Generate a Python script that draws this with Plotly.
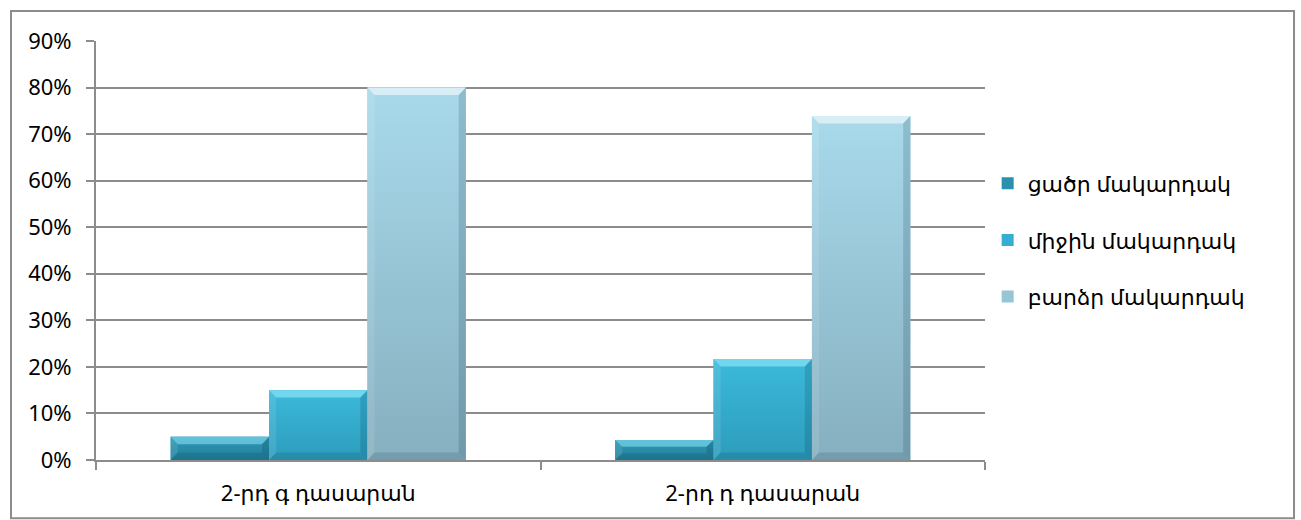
import plotly.graph_objects as go

# Data
categories = ["2-րդ գ դասարան", "2-րդ դ դասարան"]
series_names = ["ցածր մակարդակ", "միջին մակարդակ", "բարձր մակարդակ"]
low_level = [0.05, 0.043]
mid_level = [0.15, 0.217]
high_level = [0.80, 0.739]
y_ticks = [0, 0.1, 0.2, 0.3, 0.4, 0.5, 0.6, 0.7, 0.8, 0.9]

series_values = [low_level, mid_level, high_level]

# Styling: flat fill for the legend swatch, gradient (bottom -> top) for the bar body
bar_colors = ["#2a90ad", "#36aed0", "#96c5d6"]
grad_bottom = ["#23809a", "#2d9cbc", "#86afbf"]
grad_top = ["#2e98b5", "#3bb9da", "#a8daeb"]
bevel_top = ["rgba(140,230,250,0.55)", "rgba(160,240,255,0.55)", "rgba(255,255,255,0.55)"]

FONT = "Noto Sans, DejaVu Sans, sans-serif"
GRID = "#8c8c8c"
BARGAP = 0.336
Y_MAX = 0.9

fig = go.Figure()
for i, (name, vals) in enumerate(zip(series_names, series_values)):
    fig.add_trace(go.Bar(
        x=categories,
        y=vals,
        name=name,
        legendgroup=name,
        marker=dict(color=bar_colors[i], line=dict(width=0)),
    ))

# Bevel / gradient overlay, placed on a linear twin of the category axis
group_w = 1 - BARGAP
bar_w = group_w / len(series_values)
bx = 0.016            # bevel width in category units
by = 0.016            # bevel height in value units


def poly(xs, ys, **kw):
    fig.add_trace(go.Scatter(
        x=xs, y=ys, xaxis="x2", yaxis="y", mode="lines", fill="toself",
        line=dict(width=0), hoverinfo="skip", showlegend=False, **kw))


for j, vals in enumerate(series_values):
    for i, v in enumerate(vals):
        x0 = i - group_w / 2 + j * bar_w
        x1 = x0 + bar_w
        b = min(by, v / 3)
        # body with vertical gradient
        poly([x0, x1, x1, x0, x0], [0, 0, v, v, 0],
             fillgradient=dict(type="vertical", start=0, stop=v,
                               colorscale=[[0, grad_bottom[j]], [1, grad_top[j]]]))
        # top bevel (highlight)
        poly([x0, x1, x1 - bx, x0 + bx, x0], [v, v, v - b, v - b, v],
             fillcolor=bevel_top[j])
        # right bevel (shade)
        poly([x1, x1, x1 - bx, x1 - bx, x1], [v, 0, b, v - b, v],
             fillcolor="rgba(0,40,60,0.16)")
        # left bevel (soft highlight)
        poly([x0, x0 + bx, x0 + bx, x0, x0], [v, v - b, b, 0, v],
             fillcolor="rgba(255,255,255,0.10)")
        # bottom bevel (shade)
        poly([x0, x1, x1 - bx, x0 + bx, x0], [0, 0, b, b, 0],
             fillcolor="rgba(0,40,60,0.14)")

fig.update_layout(
    width=1301,
    height=520,
    margin=dict(l=96, r=316, t=41, b=60, autoexpand=False),
    paper_bgcolor="white",
    plot_bgcolor="white",
    barmode="group",
    bargap=BARGAP,
    bargroupgap=0,
    font=dict(family=FONT, size=22, color="black"),
    legend=dict(
        x=1.003, xanchor="left",
        y=0.525, yanchor="middle",
        font=dict(family=FONT, size=22, color="black"),
        tracegroupgap=25,
        itemwidth=30,
        bgcolor="rgba(0,0,0,0)",
    ),
    xaxis=dict(
        type="category",
        range=[-0.5, 1.5],
        tickson="boundaries",
        ticks="outside",
        ticklen=8,
        tickwidth=2,
        tickcolor=GRID,
        showline=True,
        linecolor=GRID,
        linewidth=2,
        showgrid=False,
        ticklabelstandoff=13,
        tickfont=dict(family=FONT, size=22, color="black"),
    ),
    xaxis2=dict(
        overlaying="x",
        range=[-0.5, 1.5],
        visible=False,
        fixedrange=True,
    ),
    yaxis=dict(
        range=[0, Y_MAX],
        tickvals=y_ticks,
        tickformat=".0%",
        ticks="outside",
        ticklen=8,
        tickwidth=2,
        tickcolor=GRID,
        showline=True,
        linecolor=GRID,
        linewidth=2,
        showgrid=True,
        gridcolor=GRID,
        gridwidth=2,
        zeroline=False,
        ticklabelstandoff=10,
        tickfont=dict(family=FONT, size=22, color="black"),
    ),
    shapes=[dict(
        type="rect", xref="paper", yref="paper",
        x0=-0.0956, x1=1.3476, y0=-0.139, y1=1.0716,
        line=dict(color="#8c8c8c", width=2),
        fillcolor="rgba(0,0,0,0)",
        layer="below",
    )],
)

fig.write_html("out.html")
